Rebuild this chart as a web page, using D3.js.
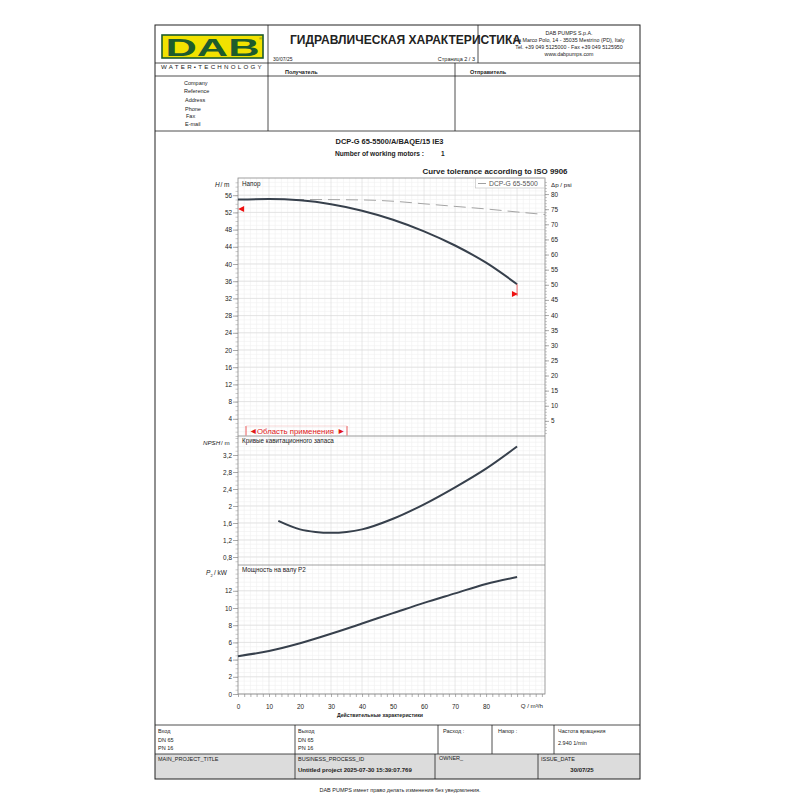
<!DOCTYPE html>
<html>
<head>
<meta charset="utf-8">
<script src="https://cdn.jsdelivr.net/npm/d3@7"></script>
<style>
  body { margin: 0; background: #fff; }
  svg { display: block; }
  text { font-family: "Liberation Sans", Arial, sans-serif; }
</style>
</head>
<body>
<svg id="sheet" width="800" height="800"></svg>
<script>
"use strict";

// ---- data
const flow_ticks = [0, 10, 20, 30, 40, 50, 60, 70, 80];
const head_q = [0, 10, 20, 30, 40, 50, 60, 70, 80, 90];
const head_h = [55.0, 55.1, 54.8, 53.9, 52.4, 50.3, 47.6, 44.3, 40.3, 35.3];
const ref_q = [0, 20, 40, 50, 60, 70, 80, 90, 99];
const ref_h = [55.0, 55.0, 54.9, 54.6, 54.0, 53.4, 52.8, 52.1, 51.5];
const tol_marks = [{q: 1, h: 52.8, dir: "left"}, {q: 89.3, h: 33.0, dir: "right"}];
const npsh_q = [13, 20, 25, 30, 35, 40, 50, 60, 70, 80, 90];
const npsh_m = [1.65, 1.45, 1.39, 1.37, 1.39, 1.45, 1.70, 2.04, 2.44, 2.88, 3.40];
const pow_q = [0, 10, 20, 30, 40, 50, 60, 70, 80, 90];
const pow_kw = [4.4, 5.0, 5.9, 7.0, 8.2, 9.4, 10.6, 11.7, 12.8, 13.6];
const head_ticks = [4, 8, 12, 16, 20, 24, 28, 32, 36, 40, 44, 48, 52, 56];
const psi_ticks = [5, 10, 15, 20, 25, 30, 35, 40, 45, 50, 55, 60, 65, 70, 75, 80];
const npsh_ticks = [0.8, 1.2, 1.6, 2.0, 2.4, 2.8, 3.2];
const pow_ticks = [0, 2, 4, 6, 8, 10, 12];
const info_labels = ["Company", "Reference", "Address", "Phone", "Fax", "E-mail"];
const psi_per_m = 1.4219;

const svg = d3.select("#sheet");
svg.append("rect").attr("width", 800).attr("height", 800).attr("fill", "#fff");

const ink = "#222";
const fmt = d => String(+d.toFixed(1)).replace(".", ",");

function txt(x, y, s, size, opt) {
  opt = opt || {};
  let t = svg.append("text")
    .attr("x", x).attr("y", y)
    .attr("font-size", size)
    .attr("fill", opt.fill || ink)
    .attr("text-anchor", opt.anchor || "start")
    .attr("font-weight", opt.bold ? "bold" : "normal")
    .text(s);
  if (opt.len) t.attr("textLength", opt.len).attr("lengthAdjust", "spacingAndGlyphs");
  if (opt.italic) t.attr("font-style", "italic");
  return t;
}
function hline(x1, x2, y, col, w) {
  svg.append("line").attr("x1", x1).attr("x2", x2).attr("y1", y).attr("y2", y)
    .attr("stroke", col || ink).attr("stroke-width", w || 0.8);
}
function vline(x, y1, y2, col, w) {
  svg.append("line").attr("x1", x).attr("x2", x).attr("y1", y1).attr("y2", y2)
    .attr("stroke", col || ink).attr("stroke-width", w || 0.8);
}

// ---- header
const fr_l = 155, fr_r = 640, fr_t = 25, fr_b = 779;

svg.append("rect").attr("x", 162).attr("y", 35).attr("width", 101).attr("height", 23)
  .attr("fill", "#f2e200").attr("stroke", "#1d5c2c").attr("stroke-width", 1.6);
txt(212.5, 56, "DAB", 24, {bold: true, anchor: "middle", fill: "#1d5c2c", len: 94});
txt(259, 40, "®", 4, {fill: "#1d5c2c"});
txt(161, 69, "WATER•TECHNOLOGY", 5.5, {len: 103}).attr("letter-spacing", 2);

txt(290, 44, "ГИДРАВЛИЧЕСКАЯ ХАРАКТЕРИСТИКА", 12.5, {bold: true, len: 231});
txt(273, 61, "30/07/25", 5, {});
txt(475, 61, "Страница 2 / 3", 5.5, {anchor: "end"});

const addr = ["DAB PUMPS S.p.A.", "Via Marco Polo, 14 - 35035 Mestrino (PD), Italy",
  "Tel. +39 049 5125000 - Fax +39 049 5125950", "www.dabpumps.com"];
addr.forEach((s, i) => txt(569, 35 + i * 7, s, 5.3, {anchor: "middle"}));

txt(285, 74, "Получатель", 5.5, {bold: true});
txt(470, 74, "Отправитель", 5.5, {bold: true});

const info_x = [184, 184, 185, 185, 186, 185];
const info_y = [85, 92.5, 101.5, 110.5, 118, 125.5];
info_labels.forEach((s, i) => txt(info_x[i], info_y[i], s, 5.5, {}));

// header grid lines
vline(268, fr_t, 131);
vline(478, fr_t, 63);
vline(455, 63, 131);
hline(fr_l, fr_r, 63);
hline(fr_l, fr_r, 76);
hline(fr_l, fr_r, 131);

// ---- titles
txt(389.5, 143.5, "DCP-G 65-5500/A/BAQE/15 IE3", 6.5, {bold: true, anchor: "middle", len: 108});
txt(335, 156, "Number of working motors :", 6.5, {bold: true, len: 89});
txt(441, 156, "1", 6.5, {bold: true});
txt(495, 174, "Curve tolerance according to ISO 9906", 6.5, {bold: true, anchor: "middle", len: 145});

// ---- chart scales
const x_scale = d3.scaleLinear().domain([0, 99]).range([238, 545]);
const h_scale = d3.scaleLinear().domain([0, 60]).range([436, 178]);
const psi_scale = d3.scaleLinear().domain([0, 60 * psi_per_m]).range([436, 178]);
const n_scale = d3.scaleLinear().domain([0.612, 3.647]).range([565, 436]);
const p_scale = d3.scaleLinear().domain([0, 15]).range([694, 565]);

const plot_l = x_scale.range()[0], plot_r = x_scale.range()[1];

function draw_panel(y_scale, major, minor_step) {
  let [lo, hi] = y_scale.domain();
  let g = svg.append("g");
  let minor_y = d3.range(Math.ceil(lo / minor_step) * minor_step, hi, minor_step);
  g.selectAll(".ym").data(minor_y).enter().append("line")
    .attr("x1", plot_l).attr("x2", plot_r)
    .attr("y1", d => y_scale(d)).attr("y2", d => y_scale(d))
    .attr("stroke", "#f0f0f0").attr("stroke-width", 0.6);
  g.selectAll(".xm").data(d3.range(2, 99, 2)).enter().append("line")
    .attr("x1", d => x_scale(d)).attr("x2", d => x_scale(d))
    .attr("y1", y_scale.range()[0]).attr("y2", y_scale.range()[1])
    .attr("stroke", d => d % 10 === 0 ? "#d8d8d8" : "#f0f0f0").attr("stroke-width", 0.6);
  g.selectAll(".yM").data(major).enter().append("line")
    .attr("x1", plot_l).attr("x2", plot_r)
    .attr("y1", d => y_scale(d)).attr("y2", d => y_scale(d))
    .attr("stroke", "#d8d8d8").attr("stroke-width", 0.6);

  // left axis
  let ax = svg.append("g").attr("transform", "translate(" + plot_l + ",0)")
    .call(d3.axisLeft(y_scale).tickValues(major).tickSize(5).tickFormat(fmt));
  ax.select(".domain").remove();
  ax.selectAll("line").attr("stroke", "#777").attr("stroke-width", 0.6);
  ax.selectAll("text").attr("font-size", 6.4).attr("fill", ink).attr("x", -6)
    .attr("font-family", "Liberation Sans, Arial, sans-serif");
  let ax2 = svg.append("g").attr("transform", "translate(" + plot_l + ",0)")
    .call(d3.axisLeft(y_scale).tickValues(minor_y).tickSize(2.5).tickFormat(""));
  ax2.select(".domain").remove();
  ax2.selectAll("line").attr("stroke", "#999").attr("stroke-width", 0.5);
}

draw_panel(h_scale, head_ticks, 1);
draw_panel(n_scale, npsh_ticks, 0.1);
draw_panel(p_scale, pow_ticks, 0.5);

// right psi axis
let psi_ax = svg.append("g").attr("transform", "translate(" + plot_r + ",0)")
  .call(d3.axisRight(psi_scale).tickValues(psi_ticks).tickSize(4).tickFormat(d => d));
psi_ax.select(".domain").remove();
psi_ax.selectAll("line").attr("stroke", "#777").attr("stroke-width", 0.6);
psi_ax.selectAll("text").attr("font-size", 6.4).attr("fill", ink).attr("x", 6)
  .attr("font-family", "Liberation Sans, Arial, sans-serif");
let psi_minor = svg.append("g").attr("transform", "translate(" + plot_r + ",0)")
  .call(d3.axisRight(psi_scale).tickValues(d3.range(1, 85)).tickSize(2).tickFormat(""));
psi_minor.select(".domain").remove();
psi_minor.selectAll("line").attr("stroke", "#999").attr("stroke-width", 0.5);

// bottom axis
let x_ax = svg.append("g").attr("transform", "translate(0," + p_scale.range()[0] + ")")
  .call(d3.axisBottom(x_scale).tickValues(d3.range(0, 99, 2)).tickSize(3)
    .tickFormat(d => flow_ticks.includes(d) ? d : ""));
x_ax.select(".domain").remove();
x_ax.selectAll("line").attr("stroke", "#777").attr("stroke-width", 0.6);
x_ax.selectAll("text").attr("font-size", 6.4).attr("fill", ink).attr("y", 10)
  .attr("font-family", "Liberation Sans, Arial, sans-serif");

// plot frame and panel separators
svg.append("rect").attr("x", plot_l).attr("y", 178).attr("width", plot_r - plot_l).attr("height", 694 - 178)
  .attr("fill", "none").attr("stroke", "#888").attr("stroke-width", 0.8);
hline(plot_l, plot_r, 436, "#888", 0.8);
hline(plot_l, plot_r, 565, "#888", 0.8);

// axis and panel labels
txt(215, 187, "H", 6.5, {italic: true});
txt(220.5, 187, "/ m", 6.5, {});
txt(551, 187, "Δp / psi", 6.2, {});
txt(242, 185.5, "Напор", 6.3, {});
txt(203, 445, "NPSH", 6.2, {italic: true});
txt(221, 445, "/ m", 6.2, {});
txt(242, 443, "Кривые кавитационного запаса", 6.3, {});
txt(206, 575, "P", 6.5, {italic: true});
txt(210.5, 576.5, "2", 4, {});
txt(214, 575, "/ kW", 6.5, {});
txt(242, 571.5, "Мощность на валу P2", 6.3, {});
txt(543, 708, "Q / m³/h", 6.2, {anchor: "end"});
txt(380, 716.5, "Действительные характеристики", 5.2, {bold: true, anchor: "middle"});

// application range bracket
const app_l = 246, app_r = 347;
vline(app_l, 426, 435.5, "#e53030", 0.8);
vline(app_r, 426, 435.5, "#e53030", 0.8);
hline(app_l, app_r, 426, "#f0b0b0", 0.5);
txt(249, 434, "◄", 8.5, {fill: "#e01818"});
txt(257, 433.5, "Область применения", 7.6, {fill: "#e01818", len: 77});
txt(337, 434, "►", 8.5, {fill: "#e01818"});

// ---- curves
const line_of = (ys) => d3.line().x(d => x_scale(d[0])).y(d => ys(d[1])).curve(d3.curveMonotoneX);

svg.append("path").datum(d3.zip(ref_q, ref_h))
  .attr("d", line_of(h_scale)).attr("fill", "none")
  .attr("stroke", "#9a9a9a").attr("stroke-width", 0.9).attr("stroke-dasharray", "12,6");

svg.append("path").datum(d3.zip(head_q, head_h))
  .attr("d", line_of(h_scale)).attr("fill", "none")
  .attr("stroke", "#37404c").attr("stroke-width", 2);

svg.append("path").datum(d3.zip(npsh_q, npsh_m))
  .attr("d", line_of(n_scale)).attr("fill", "none")
  .attr("stroke", "#37404c").attr("stroke-width", 2);

svg.append("path").datum(d3.zip(pow_q, pow_kw))
  .attr("d", line_of(p_scale)).attr("fill", "none")
  .attr("stroke", "#37404c").attr("stroke-width", 2);

// tolerance markers
const last_q = head_q[head_q.length - 1], last_h = head_h[head_h.length - 1];
vline(x_scale(last_q), h_scale(last_h), h_scale(tol_marks[1].h) + 2, "#f03030", 0.7);
tol_marks.forEach(m => {
  let cx = x_scale(m.q), cy = h_scale(m.h);
  let pts = m.dir === "left"
    ? [[cx - 3, cy], [cx + 3, cy - 3], [cx + 3, cy + 3]]
    : [[cx + 3, cy], [cx - 3, cy - 3], [cx - 3, cy + 3]];
  svg.append("polygon").attr("points", pts.map(p => p.join(",")).join(" ")).attr("fill", "#ee1111");
});

// legend
svg.append("rect").attr("x", 475.5).attr("y", 178.5).attr("width", 69).attr("height", 9.5)
  .attr("fill", "#fff").attr("stroke", "#bbb").attr("stroke-width", 0.6);
hline(478, 486, 183.5, "#888", 0.8);
txt(489, 186, "DCP-G 65-5500", 6.8, {fill: "#555"});

// ---- bottom table
const tb_t = 725, tb_m = 754;
svg.append("rect").attr("x", fr_l).attr("y", tb_m).attr("width", fr_r - fr_l).attr("height", fr_b - tb_m)
  .attr("fill", "#dcdcdc");
hline(fr_l, fr_r, tb_t);
hline(fr_l, fr_r, tb_m);
vline(295, tb_t, fr_b);
vline(438, tb_t, tb_m);
vline(492, tb_t, tb_m);
vline(554, tb_t, tb_m);
vline(435, tb_m, fr_b);
vline(538, tb_m, fr_b);

txt(158, 733, "Вход", 5.5, {});
txt(158, 741.5, "DN 65", 5.5, {});
txt(158, 750, "PN 16", 5.5, {});
txt(298, 733, "Выход", 5.5, {});
txt(298, 741.5, "DN 65", 5.5, {});
txt(298, 750, "PN 16", 5.5, {});
txt(443, 733, "Расход :", 5.5, {});
txt(498, 733, "Напор :", 5.5, {});
txt(558, 733, "Частота вращения", 5.5, {});
txt(558, 744.5, "2.940 1/min", 5.5, {});
txt(158, 761, "MAIN_PROJECT_TITLE", 5.5, {});
txt(298, 761, "BUSINESS_PROCESS_ID", 5.5, {});
txt(298, 771.5, "Untitled project 2025-07-30 15:39:07.769", 6, {bold: true});
txt(439, 760, "OWNER_", 5.5, {});
txt(541, 761, "ISSUE_DATE", 5.5, {});
txt(582, 771.5, "30/07/25", 6, {bold: true, anchor: "middle"});

// outer frame
svg.append("rect").attr("x", fr_l).attr("y", fr_t).attr("width", fr_r - fr_l).attr("height", fr_b - fr_t)
  .attr("fill", "none").attr("stroke", ink).attr("stroke-width", 1);

txt(400, 792, "DAB PUMPS имеет право делать изменения без уведомления.", 5.5, {anchor: "middle"});
</script>
</body>
</html>
